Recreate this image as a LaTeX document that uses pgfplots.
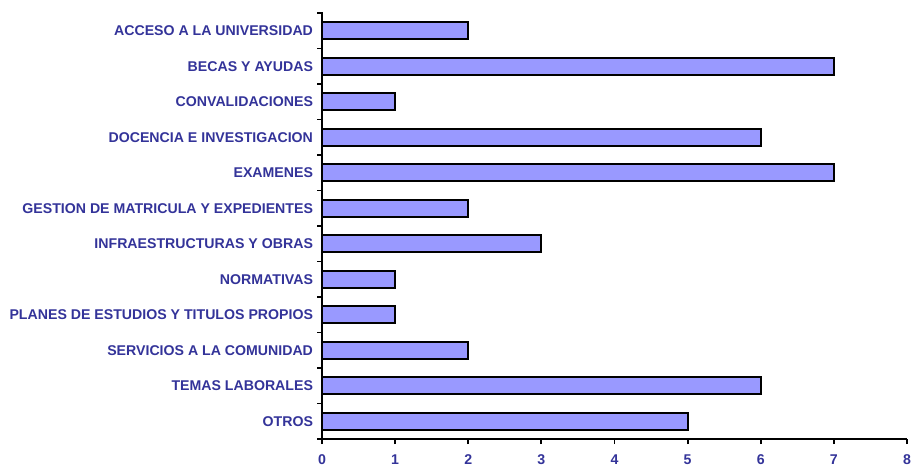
\documentclass[border=0pt]{standalone}
\usepackage{fontspec}
\setmainfont{Liberation Sans}
\usepackage{pgfplots}
\pgfplotsset{compat=1.18}
\definecolor{barfill}{HTML}{9999FF}
\definecolor{labelblue}{HTML}{333399}

\pgfplotstableread{
idx value
0 2
1 7
2 1
3 6
4 7
5 2
6 3
7 1
8 1
9 2
10 6
11 5
}\quejas

\begin{document}
\begin{tikzpicture}
\useasboundingbox (-322bp,-29bp) rectangle (592bp,439bp);
\begin{axis}[
    at={(0,0)}, anchor=south west,
    scale only axis,
    width=585bp, height=426bp,
    xbar,
    bar width=0.48,
    xmin=0, xmax=8,
    ymin=-0.5, ymax=11.5,
    y dir=reverse,
    axis x line=bottom,
    axis y line=left,
    axis line style={line width=1.8bp, -},
    xtick={0,1,...,8},
    ytick={0,1,...,11},
    yticklabels={ACCESO A LA UNIVERSIDAD, BECAS Y AYUDAS, CONVALIDACIONES,
      DOCENCIA E INVESTIGACION, EXAMENES, GESTION DE MATRICULA Y EXPEDIENTES,
      INFRAESTRUCTURAS Y OBRAS, NORMATIVAS, PLANES DE ESTUDIOS Y TITULOS PROPIOS,
      SERVICIOS A LA COMUNIDAD, TEMAS LABORALES, OTROS},
    minor ytick={-0.5,0.5,...,11.5},
    major y tick style={draw=none},
    minor tick length=6bp,
    minor y tick style={line width=1.8bp, black, xshift=-1.5bp},
    x tick style={line width=1.8bp, black},
    xtick align=outside,
    major tick length=5bp,
    ticklabel style={font=\fontsize{14.2}{16}\selectfont\bfseries, text=labelblue},
    yticklabel style={xshift=-3bp},
    xticklabel style={yshift=-7bp},
    /pgf/number format/assume math mode=true,
    clip=false,
]
\addplot[fill=barfill, draw=black, line width=2bp] table[x=value, y=idx] {\quejas};
\end{axis}
\end{tikzpicture}
\end{document}
